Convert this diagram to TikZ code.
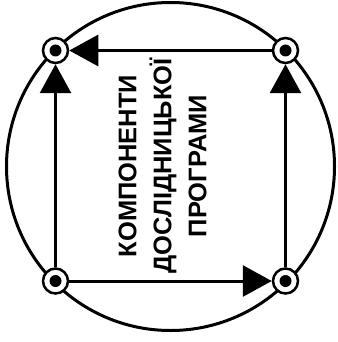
\documentclass[tikz,border=0pt]{standalone}
\usepackage{fontspec}
\setmainfont{Liberation Sans}
\usetikzlibrary{arrows.meta}
\begin{document}
\begin{tikzpicture}[x=1pt,y=-1pt,
  pt/.style={circle,draw,fill=white,line width=2.5pt,minimum size=25pt,inner sep=0pt},
  arr/.style={line width=3pt,-{Triangle[length=29pt,width=31pt]}},
  ring/.style={line width=3pt}]
\useasboundingbox (0,0) rectangle (337,342);
\draw[ring] (170.5,166.5) circle[radius=164];
\node[pt] (tl) at (55.5,50.5) {};
\node[pt] (tr) at (285.5,50.5) {};
\node[pt] (bl) at (55.5,281) {};
\node[pt] (br) at (285.5,281) {};
\foreach \n in {tl,tr,bl,br}{\fill (\n.center) circle[radius=6pt];}
\draw[arr] (bl) -- (tl);
\draw[arr] (tr) -- (tl);
\draw[arr] (br) -- (tr);
\draw[arr] (bl) -- (br);
\node[rotate=90,align=center,inner sep=0pt,font=\fontsize{25.5}{35}\selectfont\bfseries] (txt) at (162.5,166)
  {КОМПОНЕНТИ\\ДОСЛІДНИЦЬКОЇ\\ПРОГРАМИ};
\end{tikzpicture}
\end{document}
